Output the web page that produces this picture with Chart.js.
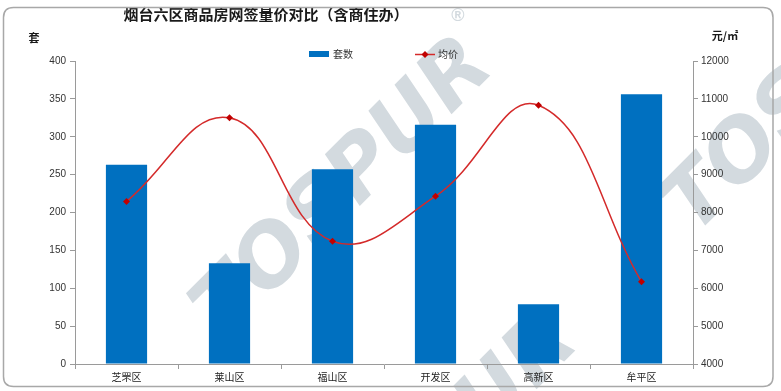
<!DOCTYPE html>
<html>
<head>
<meta charset="utf-8">
<script src="https://cdn.jsdelivr.net/npm/chart.js@4.4.0/dist/chart.umd.min.js"></script>
<style>
html,body{margin:0;padding:0;background:#fff;}
#wrap{width:781px;height:391px;}
</style>
</head>
<body>
<div id="wrap"><canvas id="c" width="781" height="391"></canvas></div>
<script>
const categories = ['芝罘区','莱山区','福山区','开发区','高新区','牟平区'];
const units = [263, 133, 257, 316, 79, 356];
const prices = [8290, 10500, 7240, 8430, 10830, 6170];
const leftTicks = {min: 0, max: 400, step: 50};
const rightTicks = {min: 4000, max: 12000, step: 1000};
const titleText = '烟台六区商品房网签量价对比（含商住办）';
const leftTitle = '套';
const rightTitle = '元/㎡';
const seriesNames = ['套数', '均价'];

const FONT = '"Liberation Sans", "Noto Sans CJK SC", Arial, sans-serif';
const BAR_COLOR = '#0070c0';
const LINE_COLOR = '#d42a2a';
const POINT_COLOR = '#c00000';
const AXIS_COLOR = '#9a9a9a';

const decor = {
  id: 'decor',
  beforeDraw(chart) {
    const ctx = chart.ctx;
    ctx.save();
    ctx.fillStyle = '#ffffff';
    ctx.fillRect(0, 0, chart.width, chart.height);
    // watermark
    ctx.fillStyle = '#d3dadf';
    ctx.textAlign = 'center';
    ctx.textBaseline = 'middle';
    ctx.font = 'italic 900 84px "DejaVu Sans", "Liberation Sans", Arial, sans-serif';
    const marks = [[345, 190], [815, 85], [430, 465]];
    marks.forEach(([x, y]) => {
      ctx.save();
      ctx.translate(x, y);
      ctx.rotate(-45 * Math.PI / 180);
      ctx.fillText('TOSPUR', 0, 0);
      ctx.restore();
    });
    ctx.font = 'bold 18px "Liberation Sans", Arial, sans-serif';
    ctx.fillText('®', 458, 16);
    ctx.restore();
  },
  afterDraw(chart) {
    const ctx = chart.ctx;
    ctx.save();
    // title
    ctx.fillStyle = '#1a1a1a';
    ctx.textAlign = 'center';
    ctx.textBaseline = 'middle';
    ctx.font = 'bold 15px "Noto Sans CJK SC", sans-serif';
    ctx.fillText(titleText, 266, 14);
    // axis titles
    ctx.font = 'bold 11px "Noto Sans CJK SC", sans-serif';
    ctx.fillText(leftTitle, 34, 38);
    ctx.fillText(rightTitle, 725, 36);
    // legend
    ctx.font = '10px "Noto Sans CJK SC", sans-serif';
    ctx.textAlign = 'left';
    ctx.fillStyle = chart.data.datasets[0].backgroundColor;
    ctx.fillRect(309, 51, 20, 6);
    ctx.fillStyle = '#333';
    ctx.fillText(seriesNames[0], 333, 54);
    ctx.strokeStyle = LINE_COLOR;
    ctx.lineWidth = 1.5;
    ctx.beginPath();
    ctx.moveTo(415, 54.5);
    ctx.lineTo(435, 54.5);
    ctx.stroke();
    ctx.fillStyle = POINT_COLOR;
    ctx.beginPath();
    ctx.moveTo(425, 51);
    ctx.lineTo(428.5, 54.5);
    ctx.lineTo(425, 58);
    ctx.lineTo(421.5, 54.5);
    ctx.closePath();
    ctx.fill();
    ctx.fillStyle = '#333';
    ctx.fillText(seriesNames[1], 438, 54);
    // border
    ctx.strokeStyle = '#a8a8a8';
    ctx.lineWidth = 1.5;
    const x0 = 3.5, y0 = 7.5, x1 = 773, y1 = 386.5, r = 10;
    ctx.beginPath();
    ctx.moveTo(x0 + r, y0);
    ctx.lineTo(x1 - r, y0);
    ctx.quadraticCurveTo(x1, y0, x1, y0 + r);
    ctx.lineTo(x1, y1 - r);
    ctx.quadraticCurveTo(x1, y1, x1 - r, y1);
    ctx.lineTo(x0 + r, y1);
    ctx.quadraticCurveTo(x0, y1, x0, y1 - r);
    ctx.lineTo(x0, y0 + r);
    ctx.quadraticCurveTo(x0, y0, x0 + r, y0);
    ctx.stroke();
    ctx.restore();
  }
};

new Chart(document.getElementById('c'), {
  data: {
    labels: categories,
    datasets: [
      {
        type: 'bar',
        label: seriesNames[0],
        data: units,
        yAxisID: 'y',
        backgroundColor: BAR_COLOR,
        barPercentage: 0.4,
        categoryPercentage: 1.0,
        order: 2
      },
      {
        type: 'line',
        label: seriesNames[1],
        data: prices,
        yAxisID: 'y1',
        borderColor: LINE_COLOR,
        borderWidth: 1.5,
        tension: 0.42,
        pointStyle: 'rectRot',
        pointRadius: 3.5,
        pointBackgroundColor: POINT_COLOR,
        pointBorderColor: POINT_COLOR,
        pointBorderWidth: 0,
        fill: false,
        order: 1
      }
    ]
  },
  options: {
    responsive: false,
    animation: false,
    events: [],
    layout: {padding: {top: 61, bottom: 5, left: 0, right: 0}},
    plugins: {legend: {display: false}, tooltip: {enabled: false}, title: {display: false}},
    scales: {
      x: {
        type: 'category',
        offset: true,
        grid: {display: true, drawOnChartArea: false, offset: true, tickLength: 5, color: AXIS_COLOR},
        border: {display: true, color: AXIS_COLOR},
        ticks: {color: '#222', font: {family: '"Noto Sans CJK SC", sans-serif', size: 10}, padding: 2, maxRotation: 0},
        afterFit(s) { s.height = 22; }
      },
      y: {
        position: 'left',
        min: leftTicks.min, max: leftTicks.max,
        ticks: {stepSize: leftTicks.step, color: '#333', font: {family: FONT, size: 10}, padding: 4,
                callback: v => String(v)},
        grid: {display: true, drawOnChartArea: false, tickLength: 5, color: AXIS_COLOR},
        border: {display: true, color: AXIS_COLOR},
        afterFit(s) { s.width = 75; }
      },
      y1: {
        position: 'right',
        min: rightTicks.min, max: rightTicks.max,
        ticks: {stepSize: rightTicks.step, color: '#333', font: {family: FONT, size: 10}, padding: 3,
                callback: v => String(v)},
        grid: {display: true, drawOnChartArea: false, tickLength: 5, color: AXIS_COLOR},
        border: {display: true, color: AXIS_COLOR},
        afterFit(s) { s.width = 88; }
      }
    }
  },
  plugins: [decor]
});
</script>
</body>
</html>
